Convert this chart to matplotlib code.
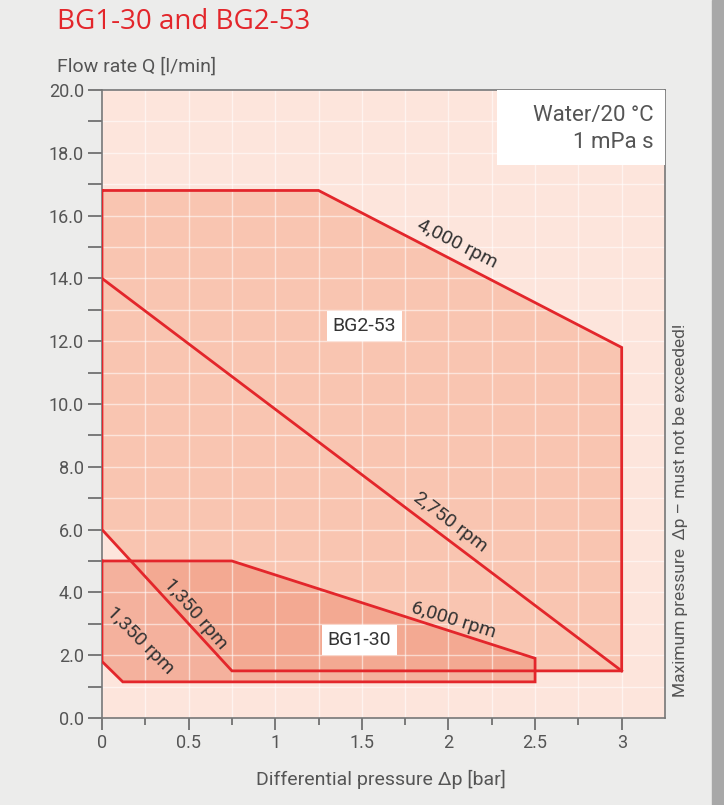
import matplotlib
matplotlib.use('Agg')
import matplotlib.pyplot as plt
from matplotlib.patches import Polygon, Rectangle
import numpy as np

# ---------------------------------------------------------
# Data
# ---------------------------------------------------------
# BG2-53 operating range (differential pressure [bar], flow [l/min])
bg2_dp = [0.0, 1.25, 3.0, 3.0, 0.75, 0.0]
bg2_q = [16.8, 16.8, 11.8, 1.5, 1.5, 6.0]

# BG1-30 operating range
bg1_dp = [0.0, 0.75, 2.5, 2.5, 0.12, 0.0]
bg1_q = [5.0, 5.0, 1.9, 1.15, 1.15, 1.8]

# 2,750 rpm characteristic of BG2-53
rpm2750_dp = [0.0, 3.0]
rpm2750_q = [14.0, 1.5]

x_ticks = [0, 0.5, 1, 1.5, 2, 2.5, 3]
x_tick_labels = ['0', '0.5', '1', '1.5', '2', '2.5', '3']
y_ticks = [0, 2, 4, 6, 8, 10, 12, 14, 16, 18, 20]

# ---------------------------------------------------------
# Styling
# ---------------------------------------------------------
plt.rcParams['font.family'] = ['Roboto', 'DejaVu Sans']
RED = '#e3262b'
TEXT = '#555555'
FIG_BG = '#ececeb'
AX_BG = '#fde5dc'
BG2_FILL = '#f9c5b1'
BG1_FILL = '#f2a088'

fig = plt.figure(figsize=(7.24, 8.05), dpi=100, facecolor=FIG_BG)
fig.patches.append(Rectangle((0.984, 0), 0.016, 1, transform=fig.transFigure,
                             color='#a8a8a8', zorder=0))

ax = fig.add_axes([0.1409, 0.1081, 0.7776, 0.7801])
ax.set_facecolor(AX_BG)
ax.set_xlim(0, 3.25)
ax.set_ylim(0, 20)

# fills (patches sit below the grid, outlines above it)
ax.add_patch(Polygon(np.column_stack([bg2_dp, bg2_q]), closed=True,
                     facecolor=BG2_FILL, edgecolor='none', zorder=1))
ax.add_patch(Polygon(np.column_stack([bg1_dp, bg1_q]), closed=True,
                     facecolor=BG1_FILL, edgecolor='none', alpha=0.75, zorder=1.1))
ax.set_axisbelow('line')

ax.plot(bg2_dp + bg2_dp[:1], bg2_q + bg2_q[:1], color=RED, lw=2, solid_joinstyle='miter', zorder=3)
ax.plot(bg1_dp + bg1_dp[:1], bg1_q + bg1_q[:1], color=RED, lw=2, solid_joinstyle='miter', zorder=3)
ax.plot(rpm2750_dp, rpm2750_q, color=RED, lw=2, zorder=3)

# ticks & grid
ax.set_xticks(x_ticks)
ax.set_xticklabels(x_tick_labels)
ax.set_xticks(np.arange(0.25, 3.25, 0.5), minor=True)
ax.set_yticks(y_ticks)
ax.set_yticklabels([f'{v:.1f}' for v in y_ticks])
ax.set_yticks(np.arange(1, 20, 2), minor=True)
ax.tick_params(which='both', direction='out', colors='#666666', labelcolor=TEXT,
               labelsize=13, width=1.2, pad=3)
ax.tick_params(axis='y', which='both', length=10)
ax.tick_params(axis='x', which='major', length=8.5)
ax.tick_params(axis='x', which='minor', length=5)
ax.grid(which='both', color='white', lw=1, alpha=0.55)
for s in ax.spines.values():
    s.set_color('#777777')
    s.set_linewidth(1.2)

# info box
ax.add_patch(Rectangle((2.28, 17.6), 0.97, 2.4, facecolor='white', edgecolor='none', zorder=4))
ax.text(3.186, 19.2, 'Water/20 °C', ha='right', va='center', fontsize=16, color=TEXT, zorder=5)
ax.text(3.186, 18.34, '1 mPa s', ha='right', va='center', fontsize=16, color=TEXT, zorder=5)

# model labels
for x, y, label in [(1.515, 12.48, 'BG2-53'), (1.485, 2.48, 'BG1-30')]:
    ax.text(x, y, label, ha='center', va='center', fontsize=14, color='#333333', zorder=5,
            bbox=dict(boxstyle='square,pad=0.3', facecolor='white', edgecolor='none'))

# speed labels
speed_labels = [
    (2.05, 15.1, '4,000 rpm', -27),
    (2.01, 6.24, '2,750 rpm', -37),
    (2.03, 3.12, '6,000 rpm', -17),
    (0.54, 3.31, '1,350 rpm', -49),
    (0.22, 2.48, '1,350 rpm', -45),
]
for x, y, label, rot in speed_labels:
    ax.text(x, y, label, ha='center', va='center', rotation=rot, rotation_mode='anchor',
            fontsize=14, color='#333333', zorder=5)

# titles / axis labels
fig.text(57 / 724, 1 - 22 / 805, 'BG1-30 and BG2-53', ha='left', va='center',
         fontsize=20, color=RED, family=['Open Sans', 'DejaVu Sans'])
fig.text(57 / 724, 1 - 67 / 805, 'Flow rate Q [l/min]', ha='left', va='center',
         fontsize=14, color=TEXT)
fig.text(381 / 724, 1 - 779 / 805, 'Differential pressure Δp [bar]', ha='center', va='center',
         fontsize=14, color=TEXT)
fig.text(680 / 724, 1 - 510 / 805, 'Maximum pressure  Δp – must not be exceeded!',
         ha='center', va='center', rotation=90, fontsize=12.5, color=TEXT)

fig.savefig('out.png', dpi=100, facecolor=FIG_BG)
